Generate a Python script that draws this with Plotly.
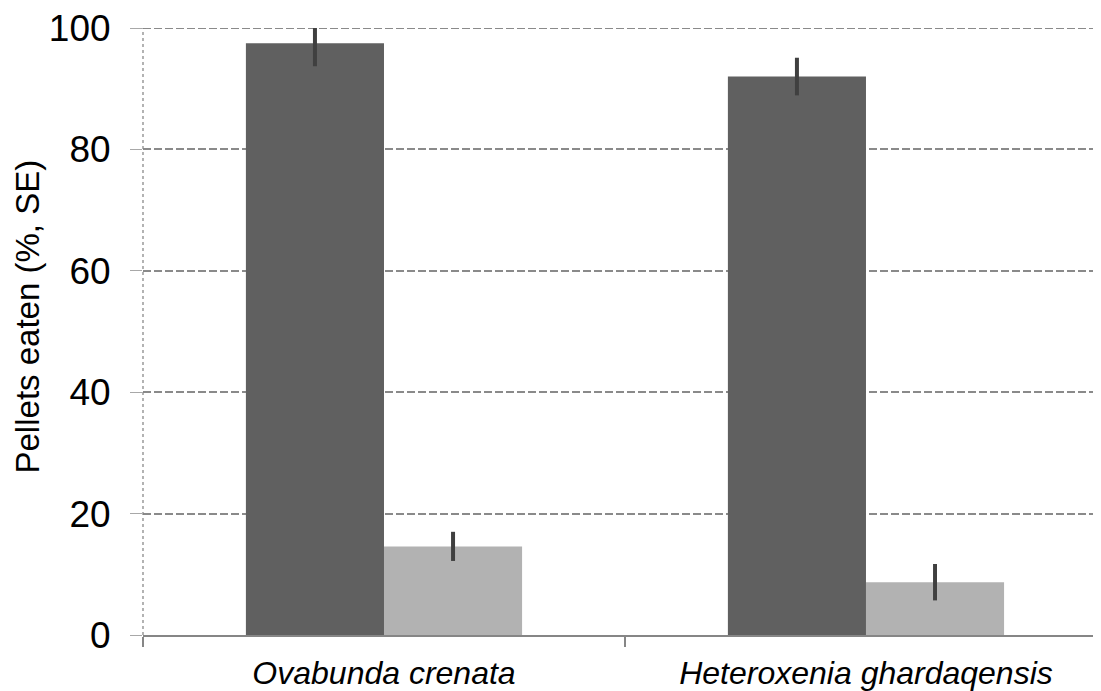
import plotly.graph_objects as go

categories = ["Ovabunda crenata", "Heteroxenia ghardaqensis"]
series_dark = [97.5, 92.0]
err_dark = [3.8, 3.1]
series_light = [14.6, 8.7]
err_light = [2.4, 3.0]
y_ticks = [0, 20, 40, 60, 80, 100]
y_title = "Pellets eaten (%, SE)"

FONT = "Liberation Sans, Arial, sans-serif"
GRID = "#8a8a8a"

fig = go.Figure()
fig.add_trace(go.Bar(
    x=categories, y=series_dark, marker=dict(color="#606060", line=dict(width=0)),
    error_y=dict(type="data", array=err_dark, color="#404040", thickness=4, width=0),
    showlegend=False,
))
fig.add_trace(go.Bar(
    x=categories, y=series_light, marker=dict(color="#b2b2b2", line=dict(width=0)),
    error_y=dict(type="data", array=err_light, color="#404040", thickness=4, width=0),
    showlegend=False,
))

# The page body has an 8px default margin, so the figure is 8px smaller
fig.update_layout(
    width=1093, height=683,
    margin=dict(l=135, r=0, t=20, b=53),
    paper_bgcolor="white", plot_bgcolor="white",
    barmode="group", bargap=0.427, bargroupgap=0,
    font=dict(family=FONT, color="black"),
    xaxis=dict(
        type="category", range=[-0.5, 1.4876],
        tickson="boundaries", ticks="outside", ticklen=10, tickwidth=2, tickcolor="#868686",
        showline=True, linecolor="#868686", linewidth=2,
        showgrid=False, zeroline=False,
        tickfont=dict(family=FONT, size=32, style="italic", color="black"),
        ticklabelstandoff=9, ticklabeloverflow="allow",
    ),
    yaxis=dict(
        range=[0, 100], tickvals=y_ticks,
        ticks="outside", ticklen=12, tickwidth=1, tickcolor="#a8a8a8",
        showline=False, zeroline=False,
        showgrid=True, gridcolor=GRID, gridwidth=2, griddash="8px,3px",
        tickfont=dict(family=FONT, size=37, color="black"),
        ticklabelstandoff=12, ticklabeloverflow="allow",
    ),
    annotations=[dict(
        text=y_title, textangle=-90, showarrow=False,
        xref="paper", yref="paper", x=0, y=0.5, xanchor="center", yanchor="middle",
        xshift=-116, yshift=15,
        font=dict(family=FONT, size=33, color="black"),
    )],
    shapes=[
        dict(type="line", xref="paper", yref="y", x0=0, x1=1, y0=y_ticks[-1], y1=y_ticks[-1],
             line=dict(color=GRID, width=2, dash="8px,3px"), layer="below"),
        dict(type="line", xref="paper", yref="y", x0=0, x1=0, y0=y_ticks[0], y1=y_ticks[-1],
             line=dict(color="#808080", width=1.2, dash="dot"), layer="above"),
    ],
)

fig.write_html("out.html")
